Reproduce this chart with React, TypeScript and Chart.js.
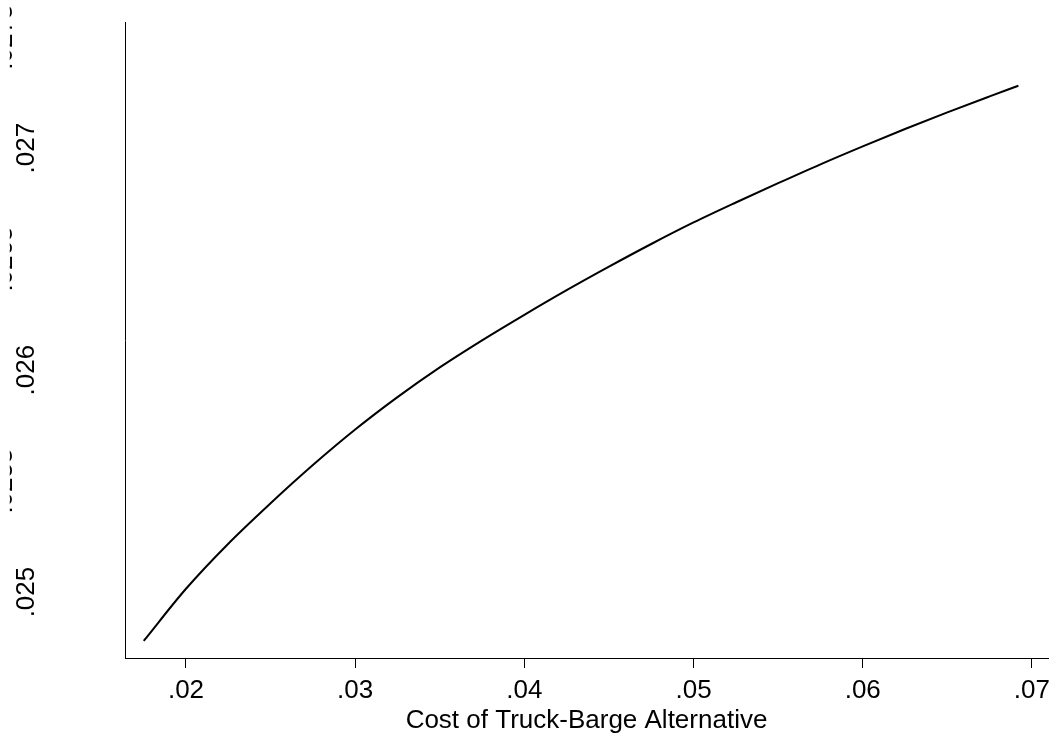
import React, { useEffect, useRef } from "react";
import { Chart, registerables } from "chart.js";

Chart.register(...registerables);

// Cost of truck-barge alternative (x) and predicted value (y)
const X_VALUES = [
  0.0175, 0.02, 0.0225, 0.025, 0.0275, 0.03, 0.0325, 0.035, 0.0375, 0.04, 0.0425,
  0.045, 0.0475, 0.05, 0.0525, 0.055, 0.0575, 0.06, 0.0625, 0.065, 0.0675, 0.0692,
];
const Y_VALUES = [
  0.02478, 0.025015, 0.025218, 0.0254, 0.025572, 0.025732, 0.025878, 0.026012,
  0.026134, 0.026249, 0.02636, 0.026466, 0.026568, 0.026665, 0.026755, 0.026842,
  0.026927, 0.027008, 0.027086, 0.027161, 0.027233, 0.027281,
];

const X_TICKS = [0.02, 0.03, 0.04, 0.05, 0.06, 0.07];
const Y_TICKS = [0.025, 0.0255, 0.026, 0.0265, 0.027, 0.0275];
const X_TITLE = "Cost of Truck-Barge Alternative";

const FONT_FAMILY = '"Liberation Sans", Arial, Helvetica, sans-serif';

const isHalfStep = (v: number) => Math.round(v * 10000) % 10 !== 0;
const stripZero = (s: string) => s.replace(/^0/, "");

export default function App() {
  const ref = useRef<HTMLCanvasElement | null>(null);

  useEffect(() => {
    if (!ref.current) return;
    let clipGrad: CanvasGradient | null = null;
    const chart = new Chart(ref.current, {
      type: "line",
      data: {
        datasets: [
          {
            data: X_VALUES.map((x, i) => ({ x, y: Y_VALUES[i] })),
            borderColor: "#000",
            borderWidth: 2,
            pointRadius: 0,
            cubicInterpolationMode: "monotone",
            fill: false,
          },
        ],
      },
      options: {
        responsive: false,
        animation: false,
        layout: { padding: { top: 22, right: 9, left: 0, bottom: 0 } },
        plugins: {
          legend: { display: false },
          tooltip: { enabled: false },
        },
        scales: {
          x: {
            type: "linear",
            min: 0.016395,
            max: 0.07095,
            afterFit: (s: any) => {
              s.height = 80;
              s.paddingLeft = 0;
              s.paddingRight = 0;
            },
            afterBuildTicks: (s: any) => {
              s.ticks = X_TICKS.map((v) => ({ value: v }));
            },
            grid: {
              drawOnChartArea: false,
              drawTicks: true,
              tickLength: 10,
              color: "#000",
              lineWidth: 1,
            },
            border: { display: true, color: "#000", width: 1 },
            ticks: {
              autoSkip: false,
              maxRotation: 0,
              minRotation: 0,
              padding: 7,
              color: "#000",
              font: { family: FONT_FAMILY, size: 26 },
              callback: (v: any) => stripZero(Number(v).toFixed(2)),
            },
            title: {
              display: true,
              text: X_TITLE,
              color: "#000",
              font: { family: FONT_FAMILY, size: 26 },
              padding: { top: 0, bottom: 2 },
            },
          },
          y: {
            type: "linear",
            min: 0.024703,
            max: 0.027568,
            afterFit: (s: any) => {
              s.width = 125;
              s.paddingTop = 0;
              s.paddingBottom = 0;
            },
            afterBuildTicks: (s: any) => {
              s.ticks = Y_TICKS.map((v) => ({ value: v }));
            },
            grid: {
              drawOnChartArea: false,
              drawTicks: false,
              color: "rgba(0,0,0,0)",
            },
            border: { display: true, color: "#000", width: 1 },
            ticks: {
              autoSkip: false,
              minRotation: 90,
              maxRotation: 90,
              crossAlign: "center",
              padding: 65.5,
              color: (ctx: any) => {
                const v = ctx.tick ? ctx.tick.value : 0;
                if (!isHalfStep(v)) return "#000";
                if (!clipGrad) {
                  // only the edge of the half-step labels shows, as in the picture
                  const g = ctx.chart.ctx.createLinearGradient(0, -17.6, 0, -17.1);
                  g.addColorStop(0, "rgba(0,0,0,0)");
                  g.addColorStop(1, "rgba(0,0,0,1)");
                  clipGrad = g;
                }
                return clipGrad;
              },
              font: (ctx: any) => {
                const v = ctx.tick ? ctx.tick.value : 0;
                return isHalfStep(v)
                  ? { family: FONT_FAMILY, size: 26, lineHeight: "44px" }
                  : { family: FONT_FAMILY, size: 26 };
              },
              callback: (v: any) => {
                const n = Number(v);
                return isHalfStep(n)
                  ? [stripZero(n.toFixed(4)), ""]
                  : stripZero(n.toFixed(3));
              },
            },
          },
        },
      },
    } as any);
    return () => chart.destroy();
  }, []);

  return (
    <div style={{ position: "fixed", left: 0, top: 0, width: 1057, height: 738, background: "#fff" }}>
      <canvas ref={ref} width={1057} height={738} style={{ display: "block" }} />
    </div>
  );
}
